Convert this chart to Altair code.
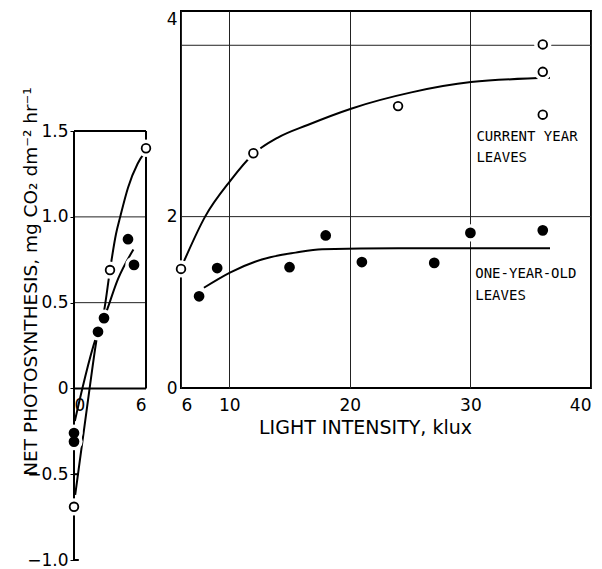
import altair as alt
import pandas as pd

# ---------------- measured net photosynthesis (mg CO2 dm-2 hr-1) ----------------
# low-light panel, 0-6 klux
low_open_klux = [0, 3, 6]
low_open_rate = [-0.69, 0.69, 1.40]
low_filled_klux = [0, 0, 2.0, 2.5, 4.5, 5.0]
low_filled_rate = [-0.26, -0.31, 0.33, 0.41, 0.87, 0.72]

# high-light panel, 6-40 klux
high_open_klux = [6, 12, 24, 36, 36, 36]
high_open_rate = [1.39, 2.74, 3.29, 4.01, 3.69, 3.19]
high_filled_klux = [7.5, 9, 15, 18, 21, 27, 30, 36]
high_filled_rate = [1.07, 1.40, 1.41, 1.78, 1.47, 1.46, 1.81, 1.84]

# hand-fitted response curves
low_open_curve_klux = [0.1, 1.3, 2.0, 2.5, 3.0, 3.5, 3.85, 4.5, 5.3, 5.95]
low_open_curve_rate = [-0.62, 0.0, 0.33, 0.45, 0.69, 0.90, 1.00, 1.17, 1.31, 1.38]
low_filled_curve_klux = [0.07, 2.0, 2.5, 3.68, 4.95]
low_filled_curve_rate = [-0.19, 0.33, 0.41, 0.64, 0.81]
high_open_curve_klux = [6.25, 8.0, 10.1, 12.0, 14.0, 16.5, 20.1, 25.1, 30.05, 36.6]
high_open_curve_rate = [1.48, 2.00, 2.42, 2.73, 2.92, 3.07, 3.26, 3.45, 3.57, 3.62]
high_filled_curve_klux = [7.9, 10.1, 12.7, 15.5, 17.7, 24, 30, 36.6]
high_filled_curve_rate = [1.17, 1.35, 1.50, 1.58, 1.62, 1.63, 1.63, 1.63]

# series labels placed beside the curves
label_text = ["CURRENT YEAR", "LEAVES", "ONE-YEAR-OLD", "LEAVES"]
label_klux = [30.5, 30.5, 30.4, 30.4]
label_rate = [2.93, 2.68, 1.33, 1.07]

# axes and grid
low_klux_ticks = [0, 6]
low_rate_ticks = [-1.0, -0.5, 0, 0.5, 1.0, 1.5]
low_rate_grid = [0.5, 1.0]
high_klux_ticks = [6, 10, 20, 30, 40]
high_rate_grid = [2, 4]
high_rate_ticks = [0, 2, 4.4]

# frame of the low-light box (klux, rate)
frame_x = [0, 6, 0, 0, 0, 0]
frame_x2 = [6, 6, 6, 0, 0.4, 0.4]
frame_y = [1.5, 0, 0, -1.0, -1.0, -0.5]
frame_y2 = [1.5, 1.5, 0, 1.5, -1.0, -0.5]

FONT = "DejaVu Sans"
MONO = "DejaVu Sans Mono"
Y_TITLE = "NET PHOTOSYNTHESIS, mg CO\u2082 dm\u207b\u00b2 hr\u207b\u00b9"


def frame(xs, ys):
    return pd.DataFrame({"k": xs, "r": ys})


def panel(xs, ys, x_axis, y_axis, open_df, filled_df, open_curve, filled_curve,
          grid_df, extra=None):
    X = lambda: alt.X("k:Q", scale=xs, axis=x_axis)
    Y = lambda: alt.Y("r:Q", scale=ys, axis=y_axis)
    out = [
        alt.Chart(grid_df).mark_rule(color="#222", strokeWidth=1).encode(y=Y()),
    ]
    if extra is not None:
        out.append(extra(X, Y))
    out += [
        alt.Chart(open_curve).mark_line(
            color="black", strokeWidth=2, interpolate="monotone"
        ).encode(x=X(), y=Y()),
        alt.Chart(filled_curve).mark_line(
            color="black", strokeWidth=2, interpolate="monotone"
        ).encode(x=X(), y=Y()),
        alt.Chart(pd.concat([open_df, filled_df])).mark_circle(
            color="white", size=300, opacity=1
        ).encode(x=X(), y=Y()),
        alt.Chart(open_df).mark_point(
            shape="circle", filled=True, fill="white", stroke="black",
            strokeWidth=1.8, size=75, opacity=1
        ).encode(x=X(), y=Y()),
        alt.Chart(filled_df).mark_circle(color="black", size=115, opacity=1).encode(
            x=X(), y=Y()
        ),
    ]
    return out


# ---------------- low-light panel ----------------
LW, LH = 72, 549
lx = alt.Scale(domain=[0, 6], nice=False, zero=False)
ly = alt.Scale(domain=[-1.0, 2.2], nice=False, zero=False)
zero_offset = -(0 - (-1.0)) * LH / 3.2

low_x_axis = alt.Axis(
    values=low_klux_ticks, format="d", domain=False, ticks=False, grid=False,
    offset=zero_offset, labelPadding=9, title=None,
)
low_y_axis = alt.Axis(
    values=low_rate_ticks,
    labelExpr="datum.value == 0 ? '0' : replace(format(datum.value, '.1f'), '-', '\u2212')",
    domain=False, ticks=True, tickSize=4, tickColor="black", grid=False,
    labelPadding=2, title=Y_TITLE, titleX=-38, titleY=270,
    titleBaseline="alphabetic", titleFontSize=18.5,
)


def low_frame(X, Y):
    return alt.Chart(
        pd.DataFrame({"k": frame_x, "k2": frame_x2, "r": frame_y, "r2": frame_y2})
    ).mark_rule(color="black", strokeWidth=2).encode(x=X(), x2="k2:Q", y=Y(), y2="r2:Q")


left = alt.layer(
    *panel(lx, ly, low_x_axis, low_y_axis,
           frame(low_open_klux, low_open_rate),
           frame(low_filled_klux, low_filled_rate),
           frame(low_open_curve_klux, low_open_curve_rate),
           frame(low_filled_curve_klux, low_filled_curve_rate),
           pd.DataFrame({"r": low_rate_grid}), extra=low_frame),
).properties(width=LW, height=LH, view=alt.ViewBackground(stroke="transparent"))

# ---------------- high-light panel ----------------
RW, RH = 410, 377
rx = alt.Scale(domain=[6, 40], nice=False, zero=False)
ry = alt.Scale(domain=[0, 4.4], nice=False, zero=False)

high_x_axis = alt.Axis(
    values=high_klux_ticks, format="d", domain=False, ticks=False,
    grid=True, gridColor="#222", gridWidth=1, labelPadding=9,
    title="LIGHT INTENSITY, klux", titleX=184, titleY=45,
    titleBaseline="alphabetic", titleFontSize=19,
)
high_y_axis = alt.Axis(
    values=high_rate_ticks, labelExpr="datum.value > 4 ? '4' : datum.label",
    domain=False, ticks=False, grid=False, labelPadding=4, title=None,
    labelBaseline={"condition": {"test": "datum.value > 4", "value": "top"}, "value": "middle"},
)


def series_labels(X, Y):
    return alt.Chart(
        pd.DataFrame({"k": label_klux, "r": label_rate, "t": label_text})
    ).mark_text(align="left", baseline="middle", font=MONO, fontSize=14,
                color="black").encode(x=X(), y=Y(), text="t:N")


right = alt.layer(
    *panel(rx, ry, high_x_axis, high_y_axis,
           frame(high_open_klux, high_open_rate),
           frame(high_filled_klux, high_filled_rate),
           frame(high_open_curve_klux, high_open_curve_rate),
           frame(high_filled_curve_klux, high_filled_curve_rate),
           pd.DataFrame({"r": high_rate_grid}), extra=series_labels),
).properties(width=RW, height=RH, view=alt.ViewBackground(stroke="black", strokeWidth=2))

chart = alt.hconcat(left, right, spacing=35, bounds="flush").properties(
    padding={"left": 20, "top": 9, "right": 5, "bottom": 5}, background="white"
).configure_axis(
    labelFont=FONT, labelFontSize=17, labelColor="black",
    titleFont=FONT, titleColor="black", titleFontWeight="normal",
)

chart.save("out.html", embed_options={"renderer": "svg", "actions": False})
